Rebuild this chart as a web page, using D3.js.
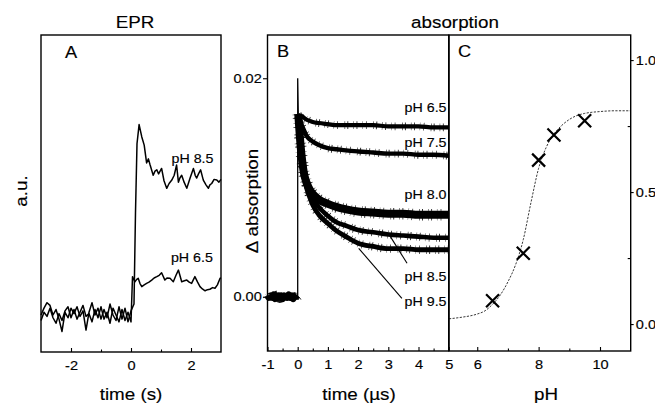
<!DOCTYPE html>
<html><head><meta charset="utf-8">
<script src="https://cdn.jsdelivr.net/npm/d3@7"></script>
<style>
body{margin:0;background:#fff}
svg{display:block}
text{font-family:"Liberation Sans",Arial,Helvetica,sans-serif;fill:#000;stroke:#000;stroke-width:0.15px}
</style>
</head><body>
<svg id="c" width="655" height="405"></svg>
<script>
// ---------------- DATA ----------------
// Panel A (EPR), time in s, signal in a.u.
const eprPreTime = [-3.0,-2.9,-2.8,-2.7,-2.6,-2.5,-2.4,-2.3,-2.2,-2.1,-2.0,-1.9,-1.8,-1.7,-1.6,-1.5,-1.4,-1.3,-1.2,-1.1,-1.0,-0.9,-0.8,-0.7,-0.6,-0.5,-0.4,-0.3,-0.2,-0.1,0.0];
const epr85Pre = [0.00,0.05,0.09,0.07,0.00,0.04,-0.03,-0.12,0.02,-0.02,0.05,0.01,0.06,-0.01,0.03,-0.11,0.02,0.09,0.00,0.05,-0.03,0.04,-0.02,0.08,0.00,-0.04,0.06,-0.03,0.05,-0.05,0.03];
const epr65Pre = [-0.04,0.02,-0.01,0.05,-0.02,-0.06,0.01,-0.04,0.03,0.06,-0.02,0.04,-0.03,0.02,0.07,-0.01,0.01,-0.05,0.04,-0.02,0.06,-0.03,0.02,-0.06,0.05,0.00,-0.05,0.04,-0.04,0.02,-0.05];
const epr85Post = [[0.1,0.08],[0.15,0.75],[0.2,1.25],[0.27,1.39],[0.36,1.30],[0.44,1.24],[0.52,1.11],[0.58,1.14],[0.63,1.10],[0.74,1.02],[0.8,1.05],[0.86,1.06],[0.92,1.03],[0.97,1.05],[1.02,1.07],[1.1,0.98],[1.19,0.925],[1.27,0.96],[1.36,0.985],[1.44,1.02],[1.52,1.095],[1.58,0.97],[1.63,1.0],[1.69,1.02],[1.77,0.97],[1.86,0.925],[1.97,1.0],[2.08,1.07],[2.14,1.02],[2.19,1.0],[2.25,1.03],[2.32,1.06],[2.41,0.985],[2.5,0.95],[2.58,0.925],[2.63,0.95],[2.69,0.96],[2.77,0.99],[2.86,0.985],[2.93,0.97],[3.0,0.99]];
const epr65Post = [[0.05,0.28],[0.13,0.243],[0.19,0.26],[0.24,0.268],[0.3,0.23],[0.36,0.207],[0.44,0.22],[0.52,0.231],[0.6,0.24],[0.69,0.255],[0.77,0.27],[0.86,0.28],[0.94,0.29],[1.02,0.309],[1.13,0.255],[1.2,0.27],[1.3,0.268],[1.41,0.243],[1.5,0.29],[1.58,0.328],[1.69,0.243],[1.78,0.25],[1.86,0.255],[1.94,0.24],[2.02,0.231],[2.13,0.28],[2.22,0.24],[2.3,0.207],[2.38,0.19],[2.47,0.177],[2.55,0.185],[2.63,0.188],[2.72,0.2],[2.8,0.195],[2.88,0.22],[2.97,0.268],[3.0,0.27]];
const eprLabels = ["pH 8.5","pH 6.5"];

// Panel B (absorption transients), time in µs
const absPreTime = [-1.0,-0.95,-0.9,-0.85,-0.8,-0.75,-0.7,-0.65,-0.6,-0.55,-0.5,-0.45,-0.4,-0.35,-0.3,-0.25,-0.2,-0.15,-0.1,-0.05,0.0];
const absPre = [0.0001,-0.0001,0.0001,-0.0001,0.0002,-0.0002,0.0000,0.0001,-0.0001,0.0001,-0.0002,0.0001,0.0000,-0.0001,0.0002,-0.0001,0.0001,-0.0002,0.0001,0.0000,0.0001];
const absSpike = [[0.0,0.0],[0.0,0.0200],[0.02,0.0167]];
const absTime = [0.02,0.05,0.1,0.15,0.2,0.3,0.4,0.5,0.7,1.0,1.3,1.6,2.0,2.5,3.0,3.5,4.0,4.5,5.0];
const abs65 = [0.0167,0.0166,0.0165,0.0165,0.0164,0.0162,0.0161,0.0160,0.0159,0.0158,0.0157,0.0157,0.0157,0.0157,0.0156,0.0156,0.0156,0.0155,0.0155];
const abs75 = [0.0167,0.0164,0.0160,0.0156,0.0153,0.0147,0.0144,0.0142,0.0139,0.0136,0.0135,0.0134,0.0133,0.0132,0.0131,0.0131,0.0130,0.0130,0.0129];
const abs80 = [0.0167,0.0155,0.0137,0.0124,0.0114,0.0104,0.0098,0.0094,0.0089,0.0085,0.0082,0.0080,0.0078,0.0077,0.0076,0.0076,0.0075,0.0075,0.0075];
const abs85 = [0.0167,0.0155,0.0137,0.0124,0.0114,0.0103,0.0096,0.0090,0.0082,0.0074,0.0068,0.0065,0.0061,0.0059,0.0057,0.0056,0.0055,0.0054,0.0054];
const abs95 = [0.0167,0.0155,0.0136,0.0122,0.0111,0.0099,0.0091,0.0084,0.0075,0.0067,0.0060,0.0055,0.0049,0.0046,0.0044,0.0044,0.0043,0.0043,0.0043];
const absLabels = ["pH 6.5","pH 7.5","pH 8.0","pH 8.5","pH 9.5"];

// Panel C (amplitude vs pH)
const pHmeas = [6.5,7.5,8.0,8.5,9.5];
const ampMeas = [0.088,0.268,0.621,0.716,0.770];
const fitPH  = [5.08,5.5,6.0,6.25,6.5,6.75,7.0,7.25,7.5,7.75,8.0,8.25,8.5,8.75,9.0,9.25,9.5,10.0,10.5,11.0];
const fitAmp = [0.020,0.026,0.038,0.050,0.075,0.110,0.160,0.225,0.320,0.460,0.590,0.670,0.720,0.752,0.775,0.790,0.798,0.805,0.808,0.808];

// Ticks
const ticksA = [-2,0,2], minorA = [-1,1];
const ticksBx = [-1,0,1,2,3,4,5], minorBx = [-0.5,0.5,1.5,2.5,3.5,4.5];
const ticksBy = [0.00,0.02];
const ticksCx = [6,8,10], minorCx = [7,9];
const ticksCy = [0.0,0.5,1.0], minorCy = [0.25,0.75];

// ---------------- DRAW ----------------
const svg = d3.select("#c");
const SX = 1.14;
function txt(x,y,s,size,anchor,rot){
  return svg.append("text")
    .attr("transform",`translate(${x},${y})${rot?" rotate(-90)":""} scale(${SX},1)`)
    .attr("font-size",size).attr("text-anchor",anchor||"start").text(s);
}

const xA = d3.scaleLinear().domain([-3,3]).range([41,221]);
const yA = d3.scaleLinear().domain([-0.27,2.044]).range([352,35]);
const xB = d3.scaleLinear().domain([-1,5]).range([267.5,448.7]);
const yB = d3.scaleLinear().domain([-0.00497,0.02396]).range([351,35]);
const xC = d3.scaleLinear().domain([5.08,11]).range([449,630.7]);
const yC = d3.scaleLinear().domain([-0.102,1.095]).range([351,35]);

function styleAxis(g){
  g.select(".domain").remove();
  g.selectAll("line").attr("stroke","#000").attr("stroke-width",1.1);
  g.selectAll("text").attr("font-family",'"Liberation Sans",Arial,sans-serif')
    .attr("font-size",12.8).attr("fill","#000")
    .attr("transform",`scale(${SX},1)`);
}
function bottomAxis(x,y0,major,minor){
  svg.append("g").attr("transform",`translate(0,${y0})`)
    .call(d3.axisBottom(x).tickValues(major).tickFormat(d=>String(d)).tickSizeInner(-4).tickSizeOuter(0).tickPadding(9))
    .call(styleAxis);
  svg.append("g").attr("transform",`translate(0,${y0})`)
    .call(d3.axisBottom(x).tickValues(minor).tickFormat("").tickSizeInner(-2.5).tickSizeOuter(0))
    .call(styleAxis);
}

// ----- Panel A -----
const lineA = d3.line().x(d=>xA(d[0])).y(d=>yA(d[1]));
const a85 = eprPreTime.map((t,i)=>[t,epr85Pre[i]]).concat(epr85Post);
const a65 = eprPreTime.map((t,i)=>[t,epr65Pre[i]]).concat(epr65Post);
[a85,a65].forEach(d=>{
  svg.append("path").datum(d).attr("d",lineA).attr("fill","none")
    .attr("stroke","#000").attr("stroke-width",1.5).attr("stroke-linejoin","round");
});
svg.append("rect").attr("x",xA(-3)).attr("y",yA(2.044)).attr("width",xA(3)-xA(-3)).attr("height",yA(-0.27)-yA(2.044))
  .attr("fill","none").attr("stroke","#000").attr("stroke-width",1.4);
bottomAxis(xA,yA.range()[0],ticksA,minorA);
txt(xA(1.35),yA(1.11),eprLabels[0],12.5,"start");
txt(xA(1.33),yA(0.39),eprLabels[1],12.5,"start");
txt(65,58,"A",16,"start");
txt(135,28.3,"EPR",16.5,"middle");
txt(27,191,"a.u.",16.5,"middle",true);
txt(xA(0),400,"time (s)",16.5,"middle");

// ----- Panel B -----
const lineB = d3.line().x(d=>xB(d[0])).y(d=>yB(d[1])).curve(d3.curveMonotoneX);
const lineBlin = d3.line().x(d=>xB(d[0])).y(d=>yB(d[1]));
function trace(d,w,fuzz){
  svg.append("path").datum(d).attr("d",lineB).attr("fill","none")
    .attr("stroke","#000").attr("stroke-width",w).attr("stroke-linejoin","round");
  svg.append("path").datum(d).attr("d",lineB).attr("fill","none")
    .attr("stroke","#000").attr("stroke-width",w+fuzz)
    .attr("stroke-dasharray","0.5 2.7 0.8 4.9 0.4 3.3 0.7 6.7 0.6 2.2 0.9 5.1")
    .attr("opacity",0.9);
}
const pre = absPreTime.map((t,i)=>[t,absPre[i]]);
trace(pre,6.5,4);
svg.append("path").datum(absSpike).attr("d",lineBlin).attr("fill","none").attr("stroke","#000").attr("stroke-width",1.3);
const series = [abs65,abs75,abs80,abs85,abs95];
const widths = [4.2,4.4,8,4.6,4.8];
series.forEach((s,k)=>{
  trace(absTime.map((t,i)=>[t,s[i]]),widths[k],3.5);
});
svg.append("rect").attr("x",xB(-1)).attr("y",35).attr("width",xB(5)-xB(-1)).attr("height",316)
  .attr("fill","none").attr("stroke","#000").attr("stroke-width",1.4);
bottomAxis(xB,351,ticksBx,minorBx);
svg.append("g").attr("transform",`translate(${xB(-1)},0)`)
  .call(d3.axisLeft(yB).tickValues(ticksBy).tickFormat(d3.format(".2f")).tickSizeInner(4.5).tickSizeOuter(0).tickPadding(0.5))
  .call(styleAxis);
const labX = 446.5;
const labY = [112.3,147.3,199.3,281,306];
absLabels.forEach((s,k)=>txt(labX,labY[k],s,12.5,"end"));
const pointers = [[[3.07,0.0055],[3.62,0.00306]],[[2.02,0.00443],[3.45,-0.00015]]];
pointers.forEach(p=>{
  svg.append("path").datum(p).attr("d",lineBlin).attr("stroke","#000").attr("stroke-width",1.1).attr("fill","none");
});
txt(277,56.7,"B",16,"start");
txt(455,27.5,"absorption",16.5,"middle");
txt(258,201,"\u0394 absorption",16.5,"middle",true);
txt(359,400,"time (\u00b5s)",16.5,"middle");

// ----- Panel C -----
const lineC = d3.line().x(d=>xC(d[0])).y(d=>yC(d[1])).curve(d3.curveMonotoneX);
svg.append("path").datum(fitPH.map((p,i)=>[p,fitAmp[i]])).attr("d",lineC).attr("fill","none")
  .attr("stroke","#222").attr("stroke-width",0.9).attr("stroke-dasharray","2.2 1.4");
const r = 6.5;
pHmeas.forEach((p,i)=>{
  const cx = xC(p), cy = yC(ampMeas[i]);
  svg.append("path").attr("d",`M${cx-r},${cy-r}L${cx+r},${cy+r}M${cx-r},${cy+r}L${cx+r},${cy-r}`)
    .attr("stroke","#000").attr("stroke-width",2.2).attr("fill","none");
});
svg.append("rect").attr("x",xC(5.08)).attr("y",35).attr("width",xC(11)-xC(5.08)).attr("height",316)
  .attr("fill","none").attr("stroke","#000").attr("stroke-width",1.4);
bottomAxis(xC,351,ticksCx,minorCx);
svg.append("g").attr("transform",`translate(${xC(11)},0)`)
  .call(d3.axisRight(yC).tickValues(ticksCy).tickFormat(d3.format(".1f")).tickSizeInner(3).tickSizeOuter(0).tickPadding(1.5))
  .call(styleAxis);
svg.append("g").attr("transform",`translate(${xC(11)},0)`)
  .call(d3.axisRight(yC).tickValues(minorCy).tickFormat("").tickSizeInner(-3).tickSizeOuter(0))
  .call(styleAxis);
txt(458,56.7,"C",16,"start");
txt(546,400,"pH",16.5,"middle");
</script>
</body></html>
